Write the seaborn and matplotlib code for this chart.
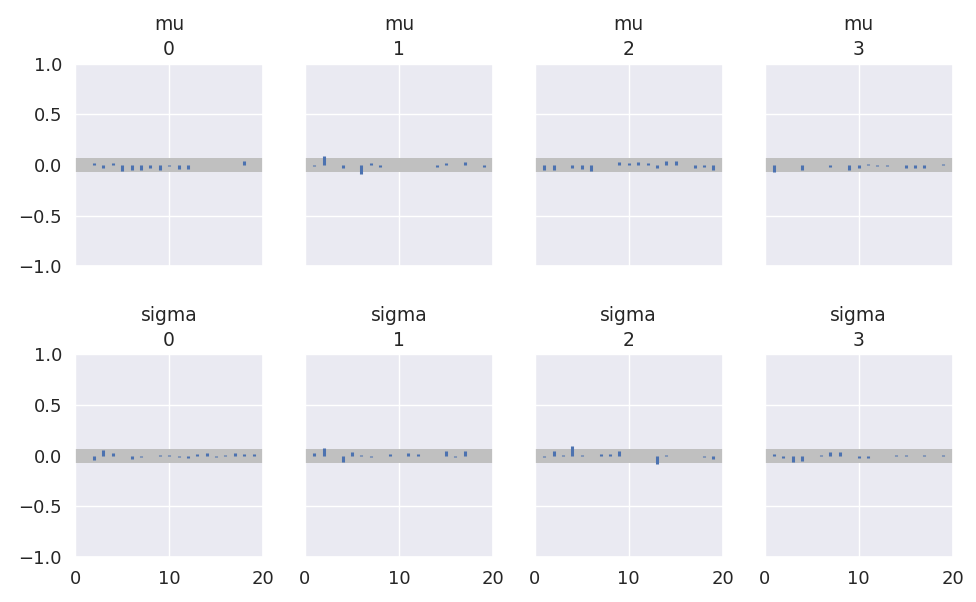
import numpy as np
import pandas as pd
import seaborn as sns
import matplotlib
matplotlib.use("Agg")
import matplotlib.pyplot as plt

lags = list(range(1, 20))

# autocorrelation, lags 1..19
mu_0 = [0.0, 0.015, -0.03, 0.02, -0.055, -0.045, -0.045, -0.025, -0.045, -0.005,
        -0.035, -0.04, 0.0, 0.005, 0.005, 0.0, 0.005, 0.035, 0.0]
mu_1 = [-0.01, 0.085, 0.0, -0.03, -0.003, -0.085, 0.02, -0.015, 0.003, 0.0,
        0.005, -0.003, -0.003, -0.015, 0.02, -0.003, 0.03, -0.003, -0.02]
mu_2 = [-0.05, -0.045, 0.003, -0.025, -0.035, -0.06, 0.0, -0.003, 0.025, 0.015,
        0.03, 0.02, -0.025, 0.035, 0.035, -0.003, -0.025, -0.015, -0.045]
mu_3 = [-0.07, 0.003, 0.003, -0.045, 0.003, 0.003, -0.015, 0.0, -0.045, -0.03,
        0.01, -0.01, -0.005, 0.0, -0.03, -0.03, -0.03, 0.0, 0.01]
sigma_0 = [0.0, -0.04, 0.06, 0.025, 0.0, -0.03, -0.015, 0.0, 0.005, 0.005,
           -0.015, -0.025, 0.02, 0.03, -0.015, 0.005, 0.03, 0.02, 0.02]
sigma_1 = [0.025, 0.08, 0.0, -0.06, 0.035, 0.003, -0.015, 0.0, 0.02, -0.003,
           0.03, 0.02, -0.003, 0.0, 0.045, -0.015, 0.05, -0.003, 0.0]
sigma_2 = [-0.015, 0.045, 0.005, 0.1, 0.005, 0.0, 0.02, 0.02, 0.045, 0.0,
           0.0, -0.003, -0.08, 0.005, -0.003, -0.003, -0.003, -0.015, -0.03]
sigma_3 = [0.02, -0.025, -0.065, -0.055, 0.0, 0.005, 0.035, 0.035, 0.0, -0.02,
           -0.02, 0.0, 0.0, 0.003, 0.003, 0.0, 0.003, 0.0, 0.005]

var_names = ["mu", "sigma"]
chains = [0, 1, 2, 3]
series = {"mu": [mu_0, mu_1, mu_2, mu_3],
          "sigma": [sigma_0, sigma_1, sigma_2, sigma_3]}
band = 0.07

rows = []
for v in var_names:
    for c in chains:
        for lag, val in zip(lags, series[v][c]):
            rows.append({"var": v, "chain": c, "lag": lag, "acf": val})
df = pd.DataFrame(rows)

sns.set_theme(style="darkgrid")
plt.rcParams["font.family"] = ["DejaVu Sans"]

fig, axes = plt.subplots(2, 4, figsize=(9.76, 6.02), dpi=100, sharex=True, sharey=True)
fig.subplots_adjust(left=0.077, right=0.976, top=0.894, bottom=0.075,
                    wspace=0.223, hspace=0.436)

for i, v in enumerate(var_names):
    for j, c in enumerate(chains):
        ax = axes[i, j]
        d = df[(df["var"] == v) & (df["chain"] == c)]
        # confidence band, opaque so the grid does not show through
        ax.fill_between([0, 20], -band, band, color="#c0c0c0", linewidth=0, zorder=1)
        ax.vlines(d["lag"], 0, d["acf"], color=sns.color_palette()[0], linewidth=2.2, zorder=2)
        ax.set_title(f"{v}\n{c}", fontsize=13.5, linespacing=1.4)
        ax.set_xlim(0, 20)
        ax.set_ylim(-1, 1)
        ax.set_xticks([0, 10, 20])
        ax.set_yticks([-1.0, -0.5, 0.0, 0.5, 1.0])
        ax.tick_params(labelsize=13)

plt.savefig("out.png")
